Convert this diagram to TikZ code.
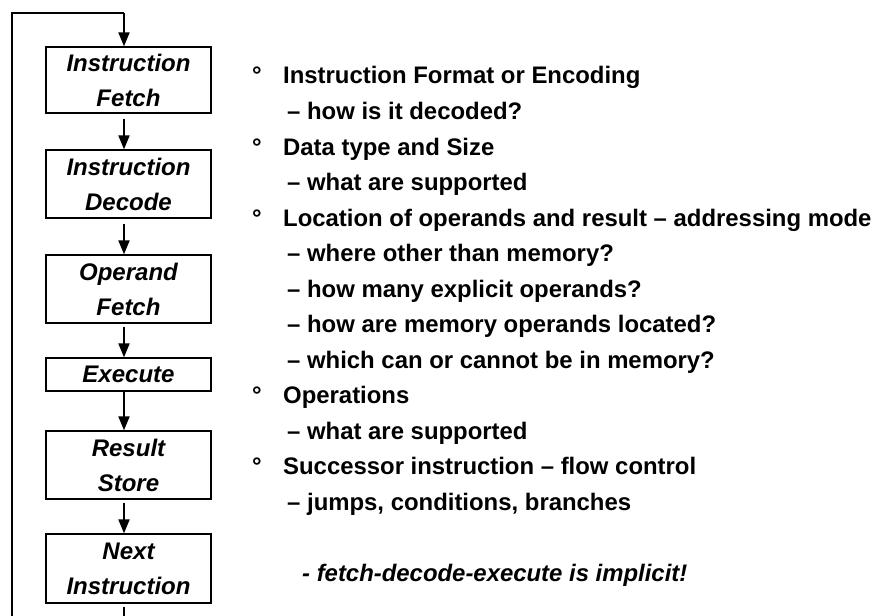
\documentclass[tikz,border=0pt]{standalone}
\usepackage{fontspec}
\setmainfont{Liberation Sans}
\usetikzlibrary{arrows.meta}
\begin{document}
\begin{tikzpicture}[x=1pt,y=-1pt,
  stepbox/.style={draw, line width=1.3pt, minimum width=165pt, inner sep=0pt, align=center,
    font=\fontsize{24}{35}\bfseries\itshape\selectfont},
  flow/.style={line width=2pt, -{Triangle[length=14pt,width=11pt]}},
  loopline/.style={line width=2pt},
  txt/.style={anchor=base west, inner sep=0pt, font=\fontsize{23.9}{27}\bfseries\selectfont},
  bul/.style={anchor=base west, inner sep=0pt, font=\fontsize{23.9}{27}\bfseries\selectfont}
]
\useasboundingbox (0,0) rectangle (877,615);
\clip (0,0) rectangle (877,615);
% boxes
\node[stepbox, minimum height=66pt] (b1) at (128.5,80) {Instruction\\Fetch};
\node[stepbox, minimum height=68pt] (b2) at (128.5,184) {Instruction\\Decode};
\node[stepbox, minimum height=68pt] (b3) at (128.5,289) {Operand\\Fetch};
\node[stepbox, minimum height=33pt] (b4) at (128.5,374.5) {Execute};
\node[stepbox, minimum height=68pt] (b5) at (128.5,465) {Result\\Store};
\node[stepbox, minimum height=69pt] (b6) at (128.5,568.5) {Next\\Instruction};
% connectors
\coordinate (tl) at (12,13);
\coordinate (bl) at (12,640);
\coordinate (tt) at (124,13);
\coordinate (bb) at (124,640);
\draw[loopline] ([yshift=-3pt]b6.south -| tt) -- (bb) -- (bl) -- (tl) -- (tt);
\draw[flow] (tt) -- (tt |- b1.north);
\draw[flow] ([yshift=-5pt]b1.south -| tt) -- (tt |- b2.north);
\draw[flow] ([yshift=-5pt]b2.south -| tt) -- (tt |- b3.north);
\draw[flow] ([yshift=-3pt]b3.south -| tt) -- (tt |- b4.north);
\draw[flow] (b4.south -| tt) -- (tt |- b5.north);
\draw[flow] ([yshift=-3pt]b5.south -| tt) -- (tt |- b6.north);
% bullets
\foreach \y in {84,155,226,403.5,474.5} \node[bul] at (252,\y) {°};
\node[txt] (t1) at (283,84) {Instruction Format or Encoding};
\node[txt] (t2) at (287,119.5) {– how is it decoded?};
\node[txt] (t3) at (283,155) {Data type and Size};
\node[txt] (t4) at (287,190.5) {– what are supported};
\node[txt] (t5) at (283,226) {Location of operands and result – addressing mode};
\node[txt] (t6) at (287,261.5) {– where other than memory?};
\node[txt] (t7) at (287,297) {– how many explicit operands?};
\node[txt] (t8) at (287,332.5) {– how are memory operands located?};
\node[txt] (t9) at (287,368) {– which can or cannot be in memory?};
\node[txt] (t10) at (283,403.5) {Operations};
\node[txt] (t11) at (287,439) {– what are supported};
\node[txt] (t12) at (283,474.5) {Successor instruction – flow control};
\node[txt] (t13) at (287,510) {– jumps, conditions, branches};
\node[txt, font=\fontsize{23.9}{27}\bfseries\itshape\selectfont] (t14) at (302,581) {- fetch-decode-execute is implicit!};
\end{tikzpicture}
\end{document}
